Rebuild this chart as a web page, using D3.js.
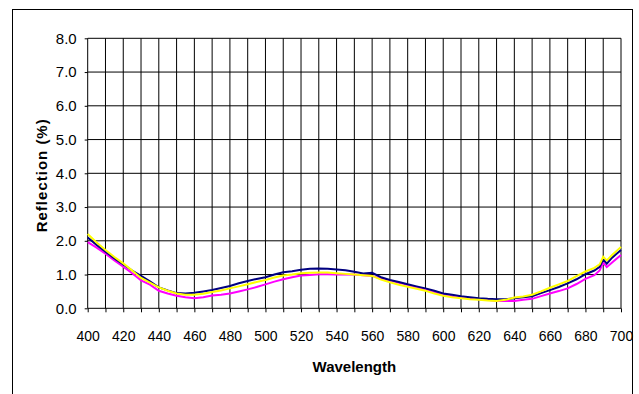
<!DOCTYPE html>
<meta charset="utf-8">
<style>
body { margin: 0; background: #fff; }
svg { font-family: "Liberation Sans", Arial, sans-serif; }
.axis path { display: none; }
.axis line { stroke: #000; }
.axis text { fill: #000; }
</style>
<body>
<script src="https://d3js.org/d3.v7.min.js"></script>
<script>

// data
var wavelengths = [400,405,410,415,420,425,430,435,440,445,450,455,460,465,470,475,480,485,490,495,
  500,505,510,515,520,525,530,535,540,545,550,555,560,565,570,575,580,585,590,595,
  600,605,610,615,620,625,630,635,640,645,650,655,660,665,670,675,680,685,688,690,692,695,700];

var navy = [2.10,1.88,1.68,1.48,1.30,1.12,0.96,0.80,0.62,0.53,0.45,0.44,0.46,0.50,0.54,0.60,0.66,0.74,0.81,0.87,
  0.92,1.00,1.07,1.10,1.14,1.17,1.18,1.17,1.15,1.13,1.08,1.03,1.05,0.92,0.84,0.78,0.71,0.65,0.59,0.52,
  0.44,0.40,0.36,0.33,0.30,0.28,0.27,0.27,0.30,0.33,0.36,0.45,0.54,0.63,0.74,0.86,1.01,1.12,1.23,1.45,1.32,1.50,1.73];

var yellow = [2.20,1.95,1.73,1.52,1.33,1.12,0.90,0.76,0.62,0.52,0.44,0.40,0.40,0.43,0.48,0.53,0.59,0.65,0.71,0.78,
  0.84,0.91,0.97,1.00,1.04,1.05,1.06,1.06,1.04,1.02,1.00,0.98,0.96,0.85,0.77,0.70,0.64,0.58,0.52,0.44,
  0.37,0.33,0.30,0.27,0.25,0.23,0.22,0.25,0.32,0.35,0.40,0.50,0.61,0.71,0.81,0.95,1.09,1.20,1.30,1.53,1.42,1.58,1.82];

var magenta = [1.96,1.80,1.62,1.42,1.23,1.04,0.83,0.70,0.52,0.44,0.37,0.33,0.30,0.33,0.38,0.40,0.44,0.50,0.56,0.63,
  0.71,0.79,0.86,0.92,0.97,0.99,1.01,1.01,1.00,1.00,1.00,0.98,0.96,0.88,0.82,0.76,0.69,0.62,0.56,0.48,
  0.40,0.36,0.33,0.30,0.27,0.25,0.22,0.22,0.22,0.25,0.28,0.36,0.44,0.51,0.59,0.72,0.87,0.98,1.12,1.36,1.22,1.36,1.58];

var yTicks = [0,1,2,3,4,5,6,7,8];
var xTicks = d3.range(400, 701, 10);

var width = 639, height = 394;
var plot = {left: 87.7, right: 621, top: 38.3, bottom: 308.3};

var x = d3.scaleLinear().domain([400, 700]).range([plot.left, plot.right]);
var y = d3.scaleLinear().domain([0, 8]).range([plot.bottom, plot.top]);

var svg = d3.select("body").append("svg")
    .attr("width", width)
    .attr("height", height);

// outer chart frame
svg.append("rect")
    .attr("x", 12.5).attr("y", 9.5)
    .attr("width", 620).attr("height", 400)
    .attr("fill", "none")
    .attr("stroke", "#000");

// grid
svg.append("g")
  .selectAll("line")
  .data(xTicks)
  .enter().append("line")
    .attr("x1", d => x(d)).attr("x2", d => x(d))
    .attr("y1", y(8)).attr("y2", y(0))
    .attr("stroke", "#000");

svg.append("g")
  .selectAll("line")
  .data(yTicks)
  .enter().append("line")
    .attr("x1", x(400)).attr("x2", x(700))
    .attr("y1", d => y(d)).attr("y2", d => y(d))
    .attr("stroke", "#000");

// axes
svg.append("g")
    .attr("class", "axis")
    .attr("transform", "translate(" + plot.left + ",0)")
    .call(d3.axisLeft(y).tickValues(yTicks).tickSize(3).tickPadding(8).tickFormat(d3.format(".1f")))
    .selectAll("text").style("font-size", "15px");

svg.append("g")
    .attr("class", "axis")
    .attr("transform", "translate(0," + plot.bottom + ")")
    .call(d3.axisBottom(x).tickValues(xTicks).tickSize(4).tickPadding(19)
      .tickFormat(d => d % 20 === 0 ? d : ""))
    .selectAll("text").style("font-size", "14px");

// titles
svg.append("text")
    .attr("x", (plot.left + plot.right) / 2)
    .attr("y", 371.5)
    .attr("text-anchor", "middle")
    .style("font-size", "15px")
    .style("font-weight", "bold")
    .text("Wavelength");

svg.append("text")
    .attr("transform", "translate(46.5," + ((plot.top + plot.bottom) / 2 + 2) + ") rotate(-90)")
    .attr("text-anchor", "middle")
    .style("font-size", "15px")
    .style("font-weight", "bold")
    .style("letter-spacing", "1px")
    .text("Reflection (%)");

// series
var line = d3.line()
    .x((d, i) => x(wavelengths[i]))
    .y(d => y(d));

[[magenta, "#ff00ff"], [navy, "#000080"], [yellow, "#ffff00"]].forEach(function(s) {
  svg.append("path")
      .datum(s[0])
      .attr("fill", "none")
      .attr("stroke", s[1])
      .attr("stroke-width", 2)
      .attr("d", line);
});

</script>
</body>
</html>
